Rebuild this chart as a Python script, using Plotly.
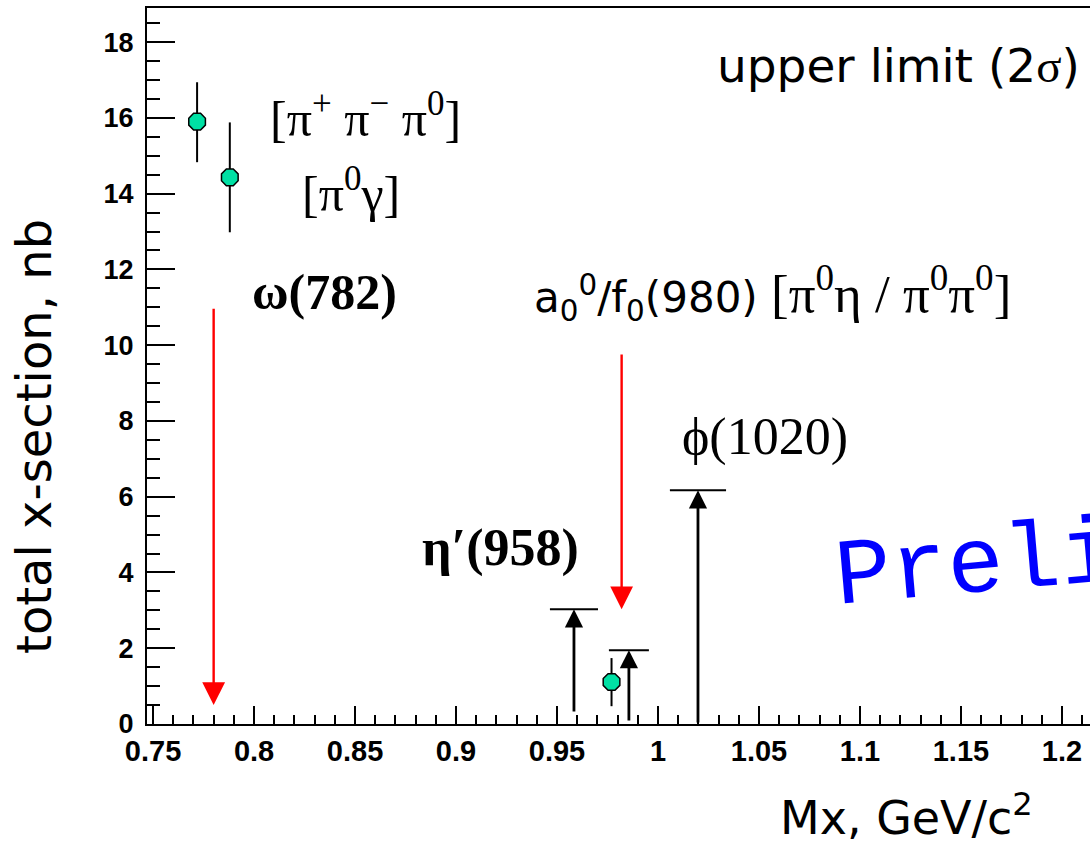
import plotly.graph_objects as go

# measured points with error bars
pt_x = [0.7718, 0.788, 0.977]
pt_y = [15.9, 14.43, 1.11]
pt_err_plus = [1.04, 1.45, 0.63]
pt_err_minus = [1.07, 1.45, 0.64]

# upper limits (black arrows with horizontal bar)
ul_x = [0.9584, 0.9856, 1.0198]
ul_y = [3.03, 1.95, 6.17]
ul_base = [0.29, 0.05, 0.0]
ul_halfwidth = [0.0119, 0.0099, 0.0139]

# expected positions (red arrows)
red_x = [0.780, 0.982]
red_top = [11.0, 9.79]
red_tip = [0.5, 3.03]

x_range = [0.747, 1.2139]
y_range = [0, 18.9]

fig = go.Figure()

fig.add_trace(go.Scatter(
    x=ul_x, y=ul_y, mode="markers",
    marker=dict(size=0.1, color="rgba(0,0,0,0)"),
    error_x=dict(type="data", symmetric=True, array=ul_halfwidth,
                 color="black", thickness=2, width=0),
    showlegend=False, hoverinfo="skip"))

fig.add_trace(go.Scatter(
    x=pt_x, y=pt_y, mode="markers",
    marker=dict(symbol="octagon", size=18, color="#00E0A4",
                line=dict(color="black", width=1.5)),
    error_y=dict(type="data", symmetric=False, array=pt_err_plus,
                 arrayminus=pt_err_minus, color="black", thickness=2, width=0),
    showlegend=False))

annotations = []
for xv, yv, base in zip(ul_x, ul_y, ul_base):
    annotations.append(dict(x=xv, y=yv, ax=xv, ay=base, xref="x", yref="y",
                            axref="x", ayref="y", text="", showarrow=True,
                            arrowhead=2, arrowsize=1.3, arrowwidth=2.8,
                            arrowcolor="black", standoff=0, startstandoff=0))
for xv, top, tip in zip(red_x, red_top, red_tip):
    annotations.append(dict(x=xv, y=tip, ax=xv, ay=top, xref="x", yref="y",
                            axref="x", ayref="y", text="", showarrow=True,
                            arrowhead=2, arrowsize=1.9, arrowwidth=2.4,
                            arrowcolor="red", standoff=0, startstandoff=0))

serif = "Liberation Serif"
sans = "DejaVu Sans"
mono = "Courier New, Nimbus Mono PS, Nimbus Mono L, FreeMono, Liberation Mono, monospace"


def label(x, y, text, family, size, color="black", bold=False, xanchor="left", angle=0):
    return dict(x=x, y=y, xref="x", yref="y", text=text, showarrow=False,
                xanchor=xanchor, yanchor="middle", textangle=angle,
                font=dict(family=family, size=size, color=color,
                          weight="bold" if bold else "normal"))


annotations += [
    label(0.8069, 16.07, "[π<sup>+</sup> π<sup>−</sup> π<sup>0</sup>]", serif, 50),
    label(0.8227, 14.09, "[π<sup>0</sup>γ]", serif, 50),
    label(0.798, 11.4, "ω(782)", serif, 50, bold=True),
    label(0.8822, 4.64, "η′(958)", serif, 52, bold=True),
    label(1.0109, 7.57, "ϕ(1020)", serif, 52),
    label(0.9376, 11.4,
          "a<sub>0</sub><sup>0</sup>/f<sub>0</sub>(980) "
          "<span style='font-family:Liberation Serif;font-size:53px'>[π<sup>0</sup>η / π<sup>0</sup>π<sup>0</sup>]</span>",
          sans, 42),
    label(1.0282, 17.39,
          "upper limit (2<span style='font-family:Liberation Serif'>σ</span>)", sans, 47),
    label(1.0842, 4.55, "Preliminary", mono, 94, color="blue", angle=-5),
]

annotations.append(dict(
    x=1.0, y=-0.127, xref="paper", yref="paper",
    text="Mx, GeV/c<sup>2</sup>", showarrow=False, xanchor="right", yanchor="middle",
    xshift=-55, font=dict(family=sans, size=46, color="black")))
annotations.append(dict(
    x=-0.1198, y=0.401, xref="paper", yref="paper",
    text="total x-section, nb", showarrow=False, textangle=-90,
    xanchor="center", yanchor="middle",
    font=dict(family=sans, size=48, color="black")))

fig.update_layout(
    width=1090, height=843,
    margin=dict(l=147, r=0, t=8, b=119, autoexpand=False),
    paper_bgcolor="white", plot_bgcolor="white",
    annotations=annotations,
    xaxis=dict(range=x_range, tick0=0.75, dtick=0.05, ticks="inside",
               ticklen=18, tickwidth=2, tickcolor="black",
               minor=dict(ticks="inside", dtick=0.01, ticklen=9, tickwidth=2,
                          tickcolor="black"),
               showline=True, linecolor="black", linewidth=2, mirror=True,
               showgrid=False, zeroline=False,
               tickfont=dict(family="Liberation Sans", size=29, color="black",
                             weight="bold"),
               ticklabelstandoff=0),
    yaxis=dict(range=y_range, tick0=0, dtick=2, ticks="inside",
               ticklen=28, tickwidth=2, tickcolor="black",
               minor=dict(ticks="inside", dtick=0.5, ticklen=13, tickwidth=2,
                          tickcolor="black"),
               showline=True, linecolor="black", linewidth=2, mirror=False,
               showgrid=False, zeroline=False,
               tickfont=dict(family="Liberation Sans", size=27, color="black",
                             weight="bold"),
               ticklabelstandoff=6),
)

fig.write_html("out.html")
